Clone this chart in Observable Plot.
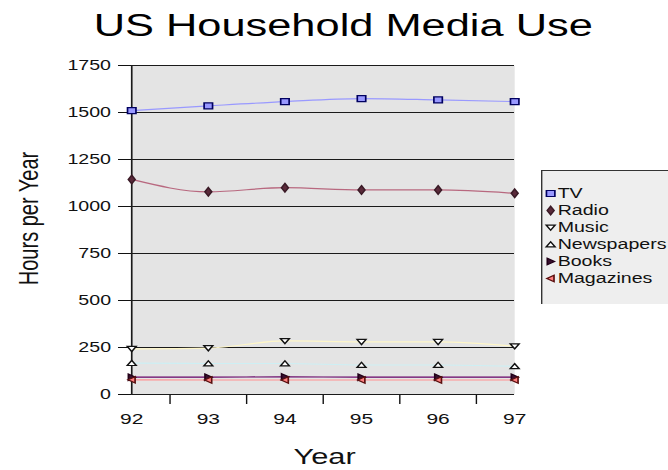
<!DOCTYPE html>
<html>
<head>
<meta charset="utf-8">
<script src="https://cdn.jsdelivr.net/npm/d3@7"></script>
<script src="https://cdn.jsdelivr.net/npm/@observablehq/plot@0.6"></script>
<style>
  html, body { margin: 0; padding: 0; background: #fff; }
  #chart { position: relative; width: 668px; height: 470px; overflow: hidden; background: #fff; }
  #chart svg { position: absolute; display: block; max-width: none; background: transparent; }
</style>
</head>
<body>
<div id="chart"></div>
<script>
// Hours per year spent on each medium, 1992-1997
const years      = [92, 93, 94, 95, 96, 97];
const tv         = [1510, 1535, 1558, 1574, 1567, 1558];
const radio      = [1144, 1078, 1100, 1088, 1088, 1070];
const music      = [243, 247, 285, 280, 280, 257];
const newspapers = [167, 165, 165, 157, 157, 150];
const books      = [92, 92, 94, 92, 92, 92];
const magazines  = [78, 77, 77, 77, 77, 77];

const seriesNames = ["TV", "Radio", "Music", "Newspapers", "Books", "Magazines"];
const yTicks = [0, 250, 500, 750, 1000, 1250, 1500, 1750];
const xTickMarks = [92.5, 93.5, 94.5, 95.5, 96.5];
const title = "US Household Media Use";
const xLabel = "Year";
const yLabel = "Hours per Year";

// the whole drawing is laid out narrow and then widened horizontally
const STRETCH = 1.4;
const FONT = "'Liberation Sans', Arial, Helvetica, sans-serif";

// marker shapes (size is the symbol area, as with d3 symbols)
const triDown = {draw(ctx, size) { const h = Math.sqrt(size) * 0.6;
  ctx.moveTo(-h, -h * 0.75); ctx.lineTo(h, -h * 0.75); ctx.lineTo(0, h * 0.85); ctx.closePath(); }};
const triUp = {draw(ctx, size) { const h = Math.sqrt(size) * 0.6;
  ctx.moveTo(-h, h * 0.75); ctx.lineTo(h, h * 0.75); ctx.lineTo(0, -h * 0.85); ctx.closePath(); }};
const triRight = {draw(ctx, size) { const h = Math.sqrt(size) * 0.6;
  ctx.moveTo(-h * 0.75, -h); ctx.lineTo(h * 0.85, 0); ctx.lineTo(-h * 0.75, h); ctx.closePath(); }};
const triLeft = {draw(ctx, size) { const h = Math.sqrt(size) * 0.6;
  ctx.moveTo(h * 0.75, -h); ctx.lineTo(-h * 0.85, 0); ctx.lineTo(h * 0.75, h); ctx.closePath(); }};

const styles = [
  {values: tv,         line: "#9999ff", symbol: "square",  fill: "#9999ff", stroke: "#000060", r: 3.4},
  {values: radio,      line: "#b8687f", symbol: "diamond", fill: "#5a2a3a", stroke: "#3a1a26", r: 2.6},
  {values: music,      line: "#fff7c8", symbol: triDown,   fill: "#ffffff", stroke: "#111",    r: 3.0},
  {values: newspapers, line: "#cdeff4", symbol: triUp,     fill: "#ffffff", stroke: "#111",    r: 3.0},
  {values: books,      line: "#660066", symbol: triRight,  fill: "#3a1030", stroke: "#220018", r: 3.0},
  {values: magazines,  line: "#ff8f8f", symbol: triLeft,   fill: "#ff8080", stroke: "#5a1010", r: 3.0}
];

const rows = styles.flatMap((s, i) =>
  years.map((yr, j) => ({series: seriesNames[i], year: yr, value: s.values[j]})));

const W = 668 / STRETCH;
const H = 470;

const lineMarks = styles.map((s, i) =>
  Plot.line(rows.filter(d => d.series === seriesNames[i]),
    {x: "year", y: "value", stroke: s.line, strokeWidth: 1.2, curve: "monotone-x"}));
const dotMarks = styles.map((s, i) =>
  Plot.dot(rows.filter(d => d.series === seriesNames[i]),
    {x: "year", y: "value", symbol: s.symbol, r: s.r, fill: s.fill, stroke: s.stroke, strokeWidth: 1.2}));

const main = Plot.plot({
  width: W,
  height: H,
  marginLeft: 93.6,
  marginRight: W - 514 / STRETCH,
  marginTop: 65,
  marginBottom: 76,
  style: {fontFamily: FONT, fontSize: "14px", color: "#111", background: "transparent"},
  x: {type: "linear", domain: [92, 97], ticks: xTickMarks, tickSize: 10, tickFormat: () => "", label: null},
  y: {domain: [0, 1750], ticks: yTicks, tickSize: 9.3, tickPadding: 5.5, tickFormat: d => String(d), label: null},
  marks: [
    Plot.frame({fill: "#e4e4e4", stroke: null}),
    Plot.ruleY(yTicks, {stroke: "#1a1a1a", strokeWidth: 1.1}),
    Plot.ruleX([92], {stroke: "#1a1a1a", strokeWidth: 1.2}),
    ...lineMarks,
    ...dotMarks,
    Plot.text(years, {x: d => d, frameAnchor: "bottom", lineAnchor: "middle", dy: 25,
      text: d => String(d), fontSize: 15, fill: "#111"}),
    Plot.text([xLabel], {frameAnchor: "bottom", lineAnchor: "middle", dx: 1, dy: 62, fontSize: 22, fill: "#111"}),
    Plot.text([yLabel], {frameAnchor: "left", textAnchor: "middle", lineAnchor: "middle", rotate: -90,
      dx: -73.6, dy: -11.5, fontSize: 20, fill: "#111"}),
    Plot.text([title], {frameAnchor: "top", lineAnchor: "middle", dx: 14.3, dy: -39, fontSize: 31, fill: "#000"})
  ]
});

// legend box, drawn by its own small plot
const legendRows = seriesNames.map((name, i) => ({name, i}));
const legend = Plot.plot({
  width: 100,
  height: 134,
  margin: 0,
  style: {fontFamily: FONT, fontSize: "14px", color: "#111", background: "transparent"},
  x: {axis: null},
  y: {type: "point", domain: seriesNames, range: [12.7, 119.3], axis: null},
  marks: [
    Plot.frame({fill: "#eeeeee", stroke: "#333", strokeWidth: 1}),
    ...styles.map((s, i) =>
      Plot.dot([legendRows[i]], {y: "name", frameAnchor: "left", dx: 6.4, symbol: s.symbol,
        r: s.r, fill: s.fill, stroke: s.stroke, strokeWidth: 1.2})),
    Plot.text(legendRows, {y: "name", text: "name", frameAnchor: "left", dx: 11.4, textAnchor: "start",
      fontSize: 14, fill: "#111"})
  ]
});

function widen(svg, left, top, w, h) {
  svg.setAttribute("width", w * STRETCH);
  svg.setAttribute("height", h);
  svg.setAttribute("preserveAspectRatio", "none");
  svg.style.width = (w * STRETCH) + "px";
  svg.style.height = h + "px";
  svg.style.left = left + "px";
  svg.style.top = top + "px";
}

const chart = document.getElementById("chart");
widen(main, 0, 0, W, H);
widen(legend, 541, 170, 100, 134);
chart.appendChild(main);
chart.appendChild(legend);
</script>
</body>
</html>
